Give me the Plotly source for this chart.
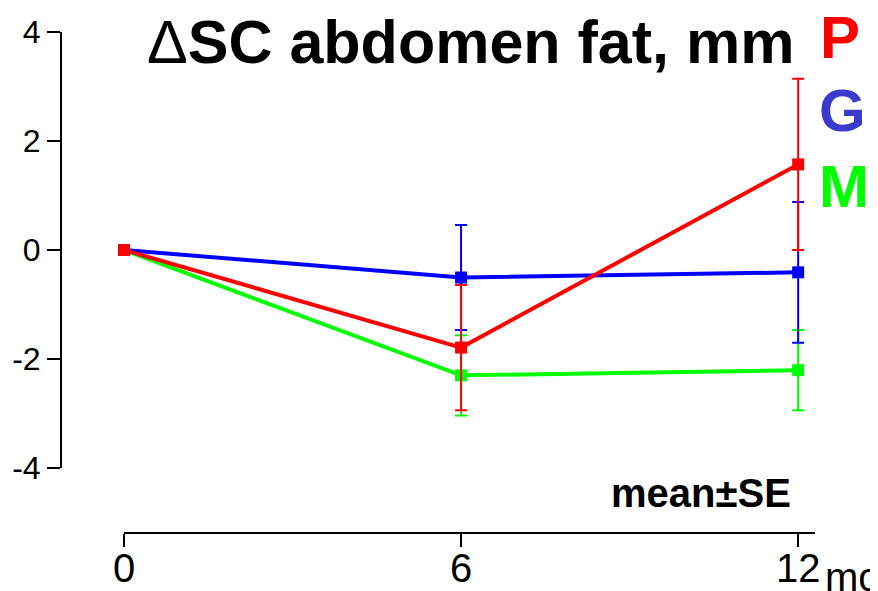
import plotly.graph_objects as go

months = [0, 6, 12]
tick_labels = ["0", "6", "12"]
y_ticks = [-4, -2, 0, 2, 4]

P_mean = [0, -1.79, 1.57]
P_se = [None, 1.15, 1.57]
G_mean = [0, -0.505, -0.41]
G_se = [None, 0.965, 1.29]
M_mean = [0, -2.30, -2.205]
M_se = [None, 0.735, 0.735]

FONT = "Liberation Sans, Arial, sans-serif"
# the page body adds an 8px offset, so the figure is 8px smaller
W, H = 870, 583
L, R, T, B = 53, 63, 24, 58
PW, PH = W - L - R, H - T - B
OFF = 8

def px(x):  # page x -> paper fraction
    return (x - OFF - L) / PW

def py(y):  # page y -> paper fraction
    return (H - B - (y - OFF)) / PH

fig = go.Figure()
series = [
    ("M", M_mean, M_se, "#00ff00"),
    ("G", G_mean, G_se, "#0000ff"),
    ("P", P_mean, P_se, "#ff0000"),
]
for name, m, se, col in series:
    fig.add_trace(go.Scatter(
        x=months, y=m, name=name, mode="lines+markers",
        line=dict(color=col, width=4),
        marker=dict(symbol="square", size=12, color=col),
        error_y=dict(type="data", array=se, visible=True, color=col,
                     thickness=2, width=6),
        cliponaxis=False, showlegend=False,
    ))

fig.update_layout(
    width=W, height=H,
    margin=dict(l=L, r=R, t=T, b=B, autoexpand=False),
    paper_bgcolor="white", plot_bgcolor="white",
    font=dict(family=FONT, color="black"),
    xaxis=dict(
        range=[0, 12.3], domain=[(124 - OFF - L) / PW, 1],
        anchor="free", position=0, automargin=False,
        tickvals=months, ticktext=tick_labels,
        ticks="outside", ticklen=13, tickwidth=2, tickcolor="black",
        ticklabelstandoff=-13,
        showline=True, linewidth=2, linecolor="black",
        showgrid=False, zeroline=False,
        tickfont=dict(size=40, family=FONT),
    ),
    yaxis=dict(
        range=[-4, 4], domain=[(533 - 468) / PH, 1],
        anchor="free", position=0, automargin=False,
        tickvals=y_ticks, ticktext=[str(v) for v in y_ticks],
        ticks="outside", ticklen=13, tickwidth=2, tickcolor="black",
        showline=True, linewidth=2, linecolor="black",
        showgrid=False, zeroline=False,
        tickfont=dict(size=32, family=FONT),
    ),
)

ann = [
    dict(text="Δ<b>SC abdomen fat, mm</b>", x=px(145), y=py(42), xanchor="left",
         yanchor="middle", font=dict(size=61, color="black")),
    dict(text="<b>P</b>", x=px(818), y=py(37), xanchor="left", yanchor="middle",
         font=dict(size=60, color="#ff0000")),
    dict(text="<b>G</b>", x=px(817), y=py(111), xanchor="left", yanchor="middle",
         font=dict(size=60, color="#3a3acc")),
    dict(text="<b>M</b>", x=px(817), y=py(187), xanchor="left", yanchor="middle",
         font=dict(size=60, color="#00ff00")),
    dict(text="<b>mean±SE</b>", x=px(793), y=py(493), xanchor="right", yanchor="middle",
         font=dict(size=40, color="black")),
    dict(text="mo", x=px(823), y=py(577), xanchor="left", yanchor="middle",
         font=dict(size=40, color="black")),
]
for a in ann:
    a.update(xref="paper", yref="paper", showarrow=False, font_family=FONT)
fig.update_layout(annotations=ann)

fig.write_html("out.html")
